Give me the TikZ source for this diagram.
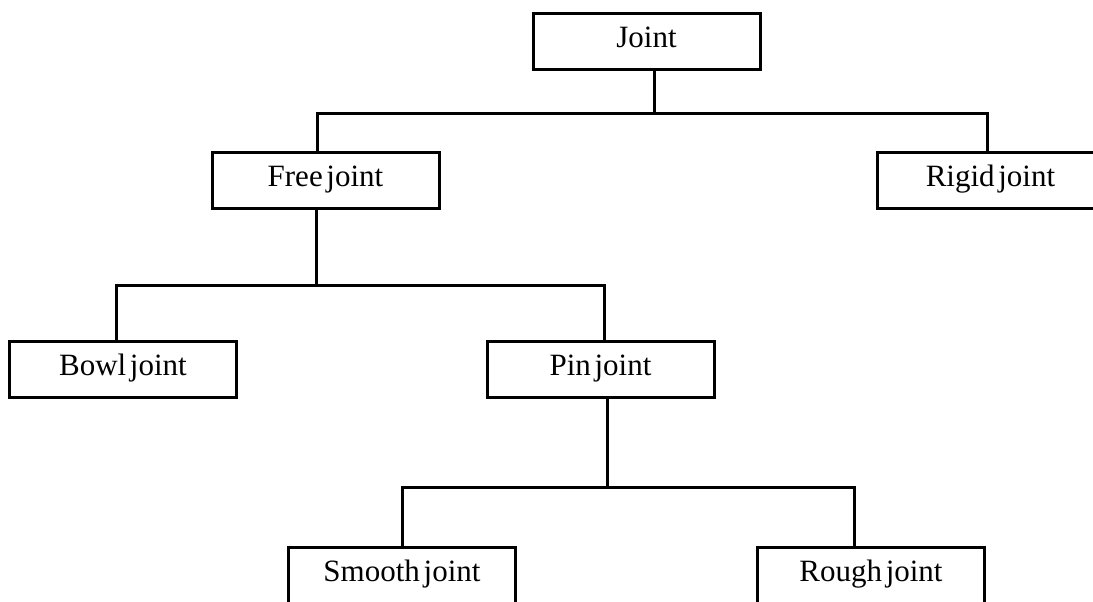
\documentclass[tikz,border=0pt]{standalone}
\usepackage{fontspec}
\setmainfont{Liberation Serif}
\usetikzlibrary{calc}

\newcommand{\boxfont}{\fontsize{15.5}{18}\selectfont}

\begin{document}
\begin{tikzpicture}[
		x = 0.5pt, y = -0.5pt,
		line width = 1.5pt,
		every node/.style = {draw, rectangle, minimum width = 113.5pt, minimum height = 28pt,
			inner sep = 0pt, text height = 9pt, text depth = 2.5pt, font = \boxfont}
		]
		\useasboundingbox (0,0) rectangle (1093,601);

		% boxes
		\node (Joint)  at (646.5, 41)  {Joint};
		\node (Free)   at (325.5, 180) {Free\hspace{0.12em}joint};
		\node (Rigid)  at (990.5, 180) {Rigid\hspace{0.12em}joint};
		\node (Bowl)   at (123, 369)   {Bowl\hspace{0.12em}joint};
		\node (Pin)    at (600.5, 369) {Pin\hspace{0.12em}joint};
		\node (Smooth) at (402, 575)   {Smooth\hspace{0.12em}joint};
		\node (Rough)  at (871, 575)   {Rough\hspace{0.12em}joint};

		% connection points
		\coordinate (busA) at (0, 113);
		\coordinate (busB) at (0, 285);
		\coordinate (busC) at (0, 487);
		\coordinate (J1) at ([xshift=3.75pt]Joint.south);
		\coordinate (F1) at ([xshift=-4.25pt]Free.north);
		\coordinate (R1) at ([xshift=-1.75pt]Rigid.north);
		\coordinate (F2) at ([xshift=-4.75pt]Free.south);
		\coordinate (B1) at ([xshift=-3.5pt]Bowl.north);
		\coordinate (P1) at ([xshift=1.75pt]Pin.north);
		\coordinate (P2) at ([xshift=3.25pt]Pin.south);
		\coordinate (S1) at (Smooth.north);
		\coordinate (G1) at ([xshift=-8.5pt]Rough.north);

		% connectors
		\draw (J1) -- (J1 |- busA);
		\draw (F1) -- (F1 |- busA) -- (R1 |- busA) -- (R1);
		\draw (F2) -- (F2 |- busB);
		\draw (B1) -- (B1 |- busB) -- (P1 |- busB) -- (P1);
		\draw (P2) -- (P2 |- busC);
		\draw (S1) -- (S1 |- busC) -- (G1 |- busC) -- (G1);
	\end{tikzpicture}
\end{document}
